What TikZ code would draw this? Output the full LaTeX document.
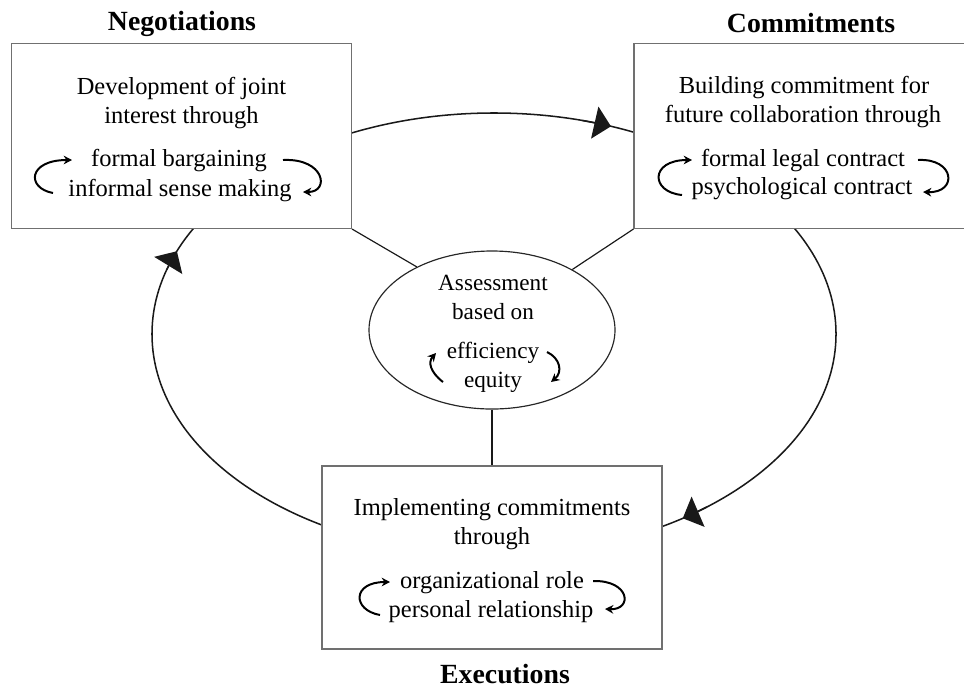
\documentclass[tikz,border=0pt]{standalone}
\usepackage{fontspec}
\setmainfont{Liberation Serif}
\usetikzlibrary{arrows.meta,shapes.geometric}

\newcommand{\bodysize}{\fontsize{20.9pt}{25pt}\selectfont}
\newcommand{\ovalsize}{\fontsize{19.8pt}{24pt}\selectfont}
\newcommand{\headsize}{\fontsize{23.7pt}{28pt}\selectfont\bfseries}

\definecolor{framegray}{RGB}{112,112,112}

\begin{document}
\begin{tikzpicture}[x=0.03cm,y=-0.03cm,
  stagebox/.style={draw=framegray, line width=0.9pt, fill=white,
    minimum width=10.2cm, minimum height=5.55cm, inner sep=0pt},
  hub/.style={ellipse, draw=black!85, line width=1pt, fill=white,
    minimum width=7.38cm, minimum height=4.74cm, inner sep=0pt},
  line/.style={anchor=base, inner sep=0pt, font=\bodysize},
  ovalline/.style={anchor=base, inner sep=0pt, font=\ovalsize},
  heading/.style={anchor=base, inner sep=0pt, font=\headsize},
  cycleline/.style={line width=1.3pt, black!90},
  looptip/.style={cycleline, -{Triangle[width=0.98cm, length=0.5cm]}},
  swap/.style={line width=1.7pt, -{Stealth[length=2.5mm, width=2.6mm]}},
  link/.style={line width=1pt, black!90}]

\useasboundingbox (0,0) rectangle (964,689);
\clip (0,0) rectangle (964,689);

% outer cycle of the three stages
\draw[cycleline] (494,334) ellipse [x radius=10.26cm, y radius=6.63cm];
\draw[looptip] plot[domain=75:70, samples=12]
  ({494+342*cos(\x)},{334-221*sin(\x)});
\draw[looptip] plot[domain=-51.5:-56.5, samples=12]
  ({494+342*cos(\x)},{334-221*sin(\x)});
\draw[looptip] plot[domain=163:158, samples=12]
  ({494+342*cos(\x)},{334-221*sin(\x)});

% stage boxes
\node[stagebox] (neg) at (181.5,136) {};
\node[stagebox] (com) at (804,136) {};
\node[stagebox, minimum height=5.49cm] (exe) at (492,557.5) {};

% central assessment
\node[hub] (ell) at (492,330) {};
\draw[link] (neg.south east) -- (ell.140.6);
\draw[link] (com.south west) -- (ell.37.9);
\draw[link] (ell.south) -- (exe.north);

% headings
\node[heading] (hneg) at (182,30) {Negotiations};
\node[heading] (hcom) at (811,32) {Commitments};
\node[heading] (hexe) at (505,683) {Executions};

% negotiations
\node[line] (n1) at (181.5,94) {Development of joint};
\node[line] (n2) at (181.5,123) {interest through};
\node[line] (n3) at (179,166) {formal bargaining};
\node[line] (n4) at (180,196) {informal sense making};
\draw[swap] (53,193) .. controls (26,188) and (28,160) .. (72,160);
\draw[swap] (283,160) .. controls (325,158) and (330,192) .. (303,192);

% commitments
\node[line] (c1) at (804,93) {Building commitment for};
\node[line] (c2) at (803,122) {future collaboration through};
\node[line] (c3) at (803,166) {formal legal contract};
\node[line] (c4) at (802,194) {psychological contract};
\draw[swap] (682,195) .. controls (650,192) and (650,160) .. (692,160);
\draw[swap] (918,160) .. controls (955,158) and (958,193) .. (923,192);

% executions
\node[line] (e1) at (492,515) {Implementing commitments};
\node[line] (e2) at (492,544) {through};
\node[line] (e3) at (492,588) {organizational role};
\node[line] (e4) at (491,617) {personal relationship};
\draw[swap] (380,615) .. controls (352,610) and (352,582) .. (390,582);
\draw[swap] (593,581) .. controls (630,580) and (633,610) .. (605,609);

% assessment text
\node[ovalline] (a1) at (493,290) {Assessment};
\node[ovalline] (a2) at (493,319) {based on};
\node[ovalline] (a3) at (493,358) {efficiency};
\node[ovalline] (a4) at (493,387) {equity};
\draw[swap] (443,382) .. controls (430,372) and (428,362) .. (436,353);
\draw[swap] (547,352) .. controls (560,358) and (563,372) .. (551,382);

\end{tikzpicture}
\end{document}
